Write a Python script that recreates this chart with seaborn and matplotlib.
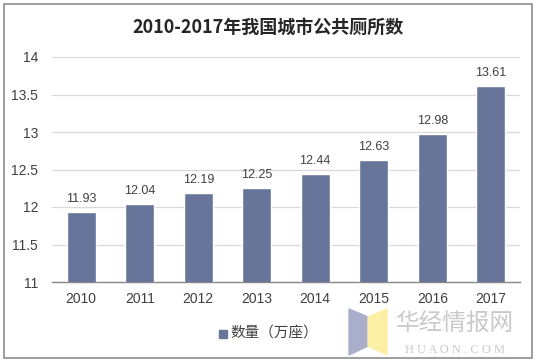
import matplotlib
matplotlib.use('Agg')
import matplotlib.pyplot as plt
import seaborn as sns
import pandas as pd
from matplotlib.patches import Polygon, Rectangle

years = ['2010', '2011', '2012', '2013', '2014', '2015', '2016', '2017']
counts = [11.93, 12.04, 12.19, 12.25, 12.44, 12.63, 12.98, 13.61]
yticks = [11, 11.5, 12, 12.5, 13, 13.5, 14]
ytick_labels = ['11', '11.5', '12', '12.5', '13', '13.5', '14']

df = pd.DataFrame({'年份': years, '数量（万座）': counts})

sns.set_theme(style='white')
plt.rcParams['font.family'] = ['Liberation Sans', 'Noto Sans CJK SC', 'DejaVu Sans']

bar_color = '#68759B'
fig = plt.figure(figsize=(5.37, 3.64), dpi=100)
ax = fig.add_axes([52/537, 1-282/364, 468/537, 225/364])

sns.barplot(data=df, x='年份', y='数量（万座）', color=bar_color, width=0.5,
            saturation=1, ax=ax, zorder=3)

ax.set_ylim(11, 14)
ax.set_yticks(yticks)
ax.set_yticklabels(ytick_labels)
ax.set_xlabel('')
ax.set_ylabel('')
ax.yaxis.grid(True, color='#D9D9D9', linewidth=0.9, zorder=0)
ax.set_axisbelow(True)
for s in ['top', 'right', 'left']:
    ax.spines[s].set_visible(False)
ax.spines['bottom'].set_color('#898989')
ax.spines['bottom'].set_linewidth(1.0)
ax.tick_params(axis='both', length=0, labelsize=10, labelcolor='#404040', pad=7)
ax.tick_params(axis='y', pad=10)

ax.bar_label(ax.containers[0], labels=[f'{v:.2f}' for v in counts],
             padding=5, fontsize=9, color='#404040')

fig.text(0.5, 1-27/364, '2010-2017年我国城市公共厕所数', ha='center', va='center',
         fontsize=13, fontweight='bold', color='#262626',
         family=['Noto Sans CJK SC', 'DejaVu Sans'])

# legend
fig.patches.append(Rectangle((219/537, 1-338/364), 8/537, 8/364,
                             transform=fig.transFigure, color=bar_color))
fig.text(230/537, 1-334/364, '数量（万座）', ha='left', va='center',
         fontsize=10.5, color='#404040', family=['Noto Sans CJK SC', 'DejaVu Sans'])

# watermark
def fp(pts):
    return [(x/537, 1-y/364) for x, y in pts]
fig.patches.append(Polygon(fp([(349, 309), (368, 317), (368, 346), (349, 355)]),
                           closed=True, transform=fig.transFigure, color='#A9AECB'))
fig.patches.append(Polygon(fp([(368, 317), (387, 309), (387, 355), (368, 346)]),
                           closed=True, transform=fig.transFigure, color='#FCEFA6'))
fig.text(455/537, 1-323/364, '华经情报网', ha='center', va='center', fontsize=17,
         color='#C9C9C9', family=['Noto Sans CJK SC', 'DejaVu Sans'])
fig.text(455/537, 1-350/364, 'H U A O N . C O M', ha='center', va='center', fontsize=9,
         color='#C9C9C9', family=['Liberation Serif', 'DejaVu Serif'])

# outer border
fig.patches.append(Rectangle((4/537, 6/364), 528/537, 354/364, transform=fig.transFigure,
                             fill=False, edgecolor='#8C8C8C', linewidth=1.2))

fig.savefig('out.png', dpi=100)
